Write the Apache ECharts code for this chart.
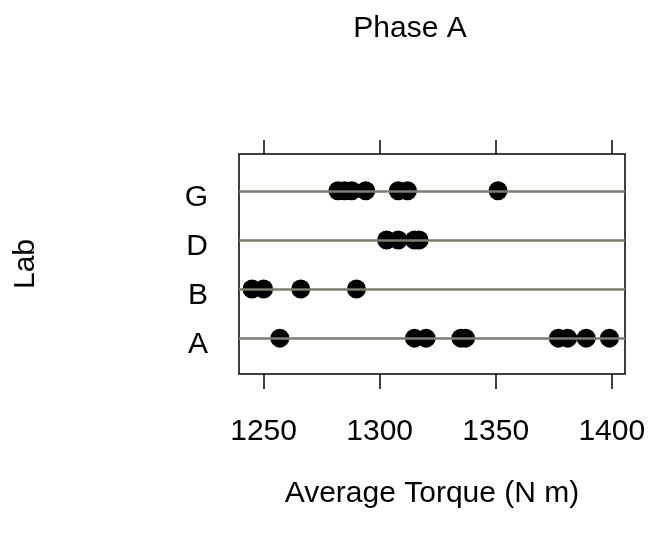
<!DOCTYPE html>
<html>
<head>
<meta charset="utf-8">
<script src="https://cdn.jsdelivr.net/npm/echarts@6/dist/echarts.min.js"></script>
<style>
  html, body { margin: 0; padding: 0; background: #fff; }
  #chart { width: 650px; height: 537px; }
</style>
</head>
<body>
<div id="chart"></div>
<script>
// labs from bottom to top
var labs = ['A', 'B', 'D', 'G']
var torqueA = [1257, 1315, 1320, 1335, 1337, 1377, 1381, 1389, 1399]
var torqueB = [1245, 1250, 1266, 1290]
var torqueD = [1303, 1308, 1315, 1317]
var torqueG = [1282, 1285, 1288, 1294, 1308, 1312, 1351]
var xTicks = [1250, 1300, 1350, 1400]

var font = 'Liberation Sans, Arial, sans-serif'
var byLab = [torqueA, torqueB, torqueD, torqueG]

var points = []
byLab.forEach(function (vals, i) {
  vals.forEach(function (v) {
    points.push([v, i + 1])
  })
})

var chart = echarts.init(document.getElementById('chart'))
chart.setOption({
  animation: false,
  title: {
    text: 'Phase A',
    left: 405,
    top: 9,
    textAlign: 'center',
    textStyle: { fontFamily: font, fontSize: 30, fontWeight: 'normal', color: '#000' }
  },
  grid: {
    left: 239,
    right: 25,
    top: 154,
    bottom: 163,
    containLabel: false,
    outerBoundsMode: 'none',
    show: true,
    borderColor: '#000',
    borderWidth: 1.5
  },
  xAxis: [{
    type: 'value',
    min: 1239.4,
    max: 1405.7,
    position: 'bottom',
    name: 'Average Torque (N m)',
    nameLocation: 'middle',
    nameGap: 105,
    nameTextStyle: { fontFamily: font, fontSize: 30, color: '#000' },
    axisLine: { show: false },
    splitLine: { show: false },
    axisTick: { show: true, length: 15, customValues: xTicks, lineStyle: { color: '#000', width: 1.5 } },
    axisLabel: {
      customValues: xTicks,
      margin: 43,
      fontFamily: font,
      fontSize: 30,
      color: '#000',
      formatter: function (v) { return String(v) }
    }
  }, {
    type: 'value',
    min: 1239.4,
    max: 1405.7,
    position: 'top',
    axisLine: { show: false },
    splitLine: { show: false },
    axisTick: { show: true, length: 14, customValues: xTicks, lineStyle: { color: '#000', width: 1.5 } },
    axisLabel: { show: false }
  }],
  yAxis: {
    type: 'value',
    min: 0.27,
    max: 4.75,
    name: 'Lab',
    nameLocation: 'middle',
    nameRotate: 90,
    nameGap: 198,
    nameTextStyle: { fontFamily: font, fontSize: 30, color: '#000' },
    axisLine: { show: false },
    axisTick: { show: false },
    splitLine: { show: false },
    axisLabel: {
      customValues: [1, 2, 3, 4],
      margin: 31,
      verticalAlign: 'top',
      lineHeight: 14,
      fontFamily: font,
      fontSize: 30,
      color: '#000',
      formatter: function (v) { return labs[Math.round(v) - 1] }
    }
  },
  series: [{
    type: 'scatter',
    xAxisIndex: 0,
    symbol: 'circle',
    symbolSize: 19,
    itemStyle: { color: '#000', opacity: 1 },
    data: points,
    z: 3,
    markLine: {
      silent: true,
      symbol: 'none',
      label: { show: false },
      lineStyle: { color: '#7d7d72', width: 2.5, type: 'solid' },
      data: labs.map(function (l, i) { return { yAxis: i + 1 } })
    }
  }]
})
</script>
</body>
</html>
